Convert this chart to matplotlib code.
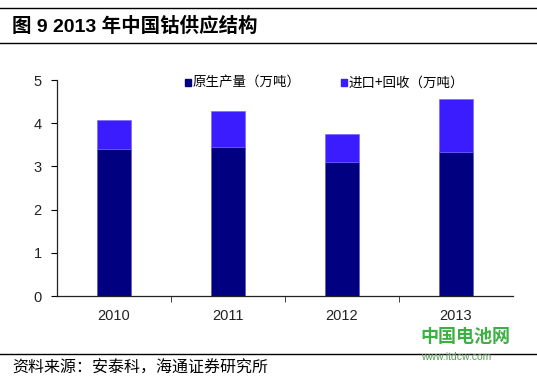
import matplotlib
matplotlib.use("Agg")
import matplotlib.pyplot as plt
from matplotlib.lines import Line2D
from matplotlib.patches import Patch

plt.rcParams["font.family"] = ["Liberation Sans", "Noto Sans CJK SC", "DejaVu Sans"]

years = ["2010", "2011", "2012", "2013"]
primary = [3.40, 3.45, 3.11, 3.33]
import_recycle = [0.67, 0.83, 0.64, 1.23]
series_labels = ["原生产量（万吨）", "进口+回收（万吨）"]

DARK = "#000080"
LIGHT = "#3a1cff"

fig = plt.figure(figsize=(5.37, 3.84), dpi=100)
ax = fig.add_axes([57 / 537, 1 - 296 / 384, 456 / 537, 216 / 384])

x = list(range(len(years)))
ax.bar(x, primary, width=0.3, color=DARK, edgecolor="#5050c0", linewidth=0.4, zorder=2)
ax.bar(x, import_recycle, width=0.3, bottom=primary, color=LIGHT,
       edgecolor="#7060ff", linewidth=0.4, zorder=2)

ax.set_xlim(-0.5, len(years) - 0.5)
ax.set_ylim(0, 5)
ax.set_yticks([0, 1, 2, 3, 4, 5])
ax.set_xticks(x)
ax.set_xticklabels(years)
ax.set_xticks([i + 0.5 for i in x[:-1]], minor=True)
ax.tick_params(axis="x", which="major", length=0, pad=9, labelsize=10.5, labelcolor="#222222")
ax.tick_params(axis="x", which="minor", length=4, direction="out", color="#222222")
ax.tick_params(axis="y", length=4, direction="out", labelsize=10.5, labelcolor="#222222", pad=7)
for s in ("top", "right"):
    ax.spines[s].set_visible(False)
for s in ("left", "bottom"):
    ax.spines[s].set_color("#222222")
    ax.spines[s].set_linewidth(0.9)

handles = [Patch(color=DARK), Patch(color=LIGHT)]
ax.legend(handles, series_labels, loc="upper left", bbox_to_anchor=(0.255, 1.075),
          ncol=2, frameon=False, handlelength=0.45, handleheight=0.45,
          handletextpad=0.1, columnspacing=3.0,
          prop={"family": ["Noto Sans CJK SC", "DejaVu Sans"], "size": 9.7})

# title block
fig.add_artist(Line2D([0, 1], [1 - 8 / 384] * 2, color="black", linewidth=1))
fig.add_artist(Line2D([0, 1], [1 - 43 / 384] * 2, color="black", linewidth=1))
fig.text(12 / 537, 1 - 26 / 384, "图 9 2013 年中国钴供应结构", fontsize=14,
         fontweight="bold", va="center", ha="left")

# footer
fig.add_artist(Line2D([0, 1], [1 - 354 / 384] * 2, color="black", linewidth=1))
fig.text(12 / 537, 1 - 368 / 384, "资料来源：安泰科，海通证券研究所", fontsize=11.5,
         va="center", ha="left", family=["Noto Sans CJK SC", "DejaVu Sans"])

# watermark logo
fig.text(420 / 537, 1 - 336 / 384, "中国电池网", fontsize=13, fontweight="bold",
         color="#3cb043", va="center", ha="left", family=["Noto Sans CJK SC"])
fig.text(421 / 537, 1 - 357 / 384, "www.itdcw.com", fontsize=7.5,
         color="#5a9a5a", va="center", ha="left")

fig.savefig("out.png", dpi=100)
